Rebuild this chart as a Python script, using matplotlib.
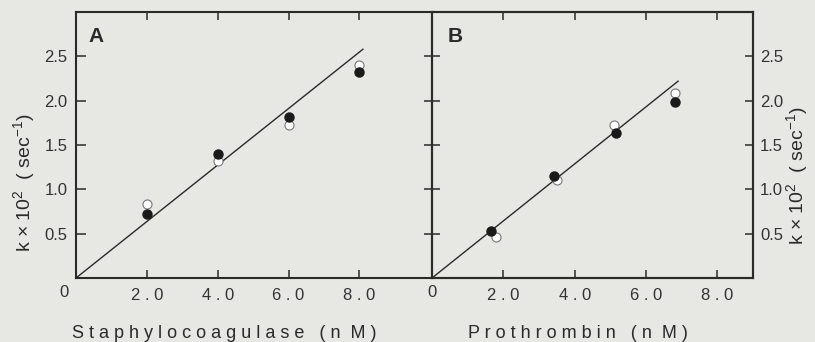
import matplotlib
matplotlib.use("Agg")
import matplotlib.pyplot as plt

plt.rcParams["font.family"] = ["Liberation Sans", "DejaVu Sans"]
plt.rcParams["mathtext.fontset"] = "custom"
plt.rcParams["mathtext.rm"] = "Liberation Sans"

# panel A: staphylocoagulase (nM) vs k x 10^2
staph_x = [2.0, 4.0, 6.0, 8.0]
staph_filled = [0.72, 1.40, 1.82, 2.32]
staph_open = [0.83, 1.32, 1.73, 2.40]
staph_fit_x = [0.0, 8.1]
staph_fit_y = [0.0, 2.58]

# panel B: prothrombin (nM) vs k x 10^2
pro_x_filled = [1.65, 3.41, 5.15, 6.80]
pro_filled = [0.53, 1.15, 1.63, 1.99]
pro_x_open = [1.79, 3.50, 5.10, 6.80]
pro_open = [0.46, 1.10, 1.73, 2.09]
pro_fit_x = [0.0, 6.9]
pro_fit_y = [0.0, 2.22]

xticks = [2.0, 4.0, 6.0, 8.0]
xticklabels = ["2 . 0", "4 . 0", "6 . 0", "8 . 0"]
yticks = [0.5, 1.0, 1.5, 2.0, 2.5]
yticklabels = ["0.5", "1.0", "1.5", "2.0", "2.5"]

bg = "#e7e7e4"
ink = "#2a2a2a"
W, H = 815, 342

fig = plt.figure(figsize=(8.15, 3.42), dpi=100, facecolor=bg)
axA = fig.add_axes([76 / W, 64 / H, 356 / W, 266 / H], facecolor=bg)
axB = fig.add_axes([432 / W, 64 / H, 321 / W, 266 / H], facecolor=bg)


def draw(ax, xf, yf, xo, yo, fx, fy):
    ax.plot(fx, fy, color=ink, lw=1.0, zorder=2)
    ax.plot(xo, yo, "o", ms=6.5, mfc="white", mec="#777777", mew=0.8, zorder=3)
    ax.plot(xf, yf, "o", ms=6.5, mfc="#1a1a1a", mec="#1a1a1a", zorder=4)
    ax.set_ylim(0, 3.0)
    for s in ax.spines.values():
        s.set_linewidth(1.5)
        s.set_color(ink)
    ax.set_xticks(xticks)
    ax.set_xticklabels(xticklabels, fontsize=12, color="#333333")
    ax.tick_params(axis="x", direction="in", length=6, width=1.1, color=ink,
                   top=True, pad=7)


draw(axA, staph_x, staph_filled, staph_x, staph_open, staph_fit_x, staph_fit_y)
draw(axB, pro_x_filled, pro_filled, pro_x_open, pro_open, pro_fit_x, pro_fit_y)

axA.set_xlim(0, 10.05)
axB.set_xlim(0, 9.0)

axA.spines["right"].set_visible(False)
axA.set_yticks(yticks)
axA.set_yticklabels(yticklabels, fontsize=12, color="#333333")
axA.tick_params(axis="y", direction="in", length=7, width=1.1, color=ink, pad=6)

# middle axis: ticks cross the line, no labels
axB.set_yticks(yticks)
axB.tick_params(axis="y", left=True, right=False, labelleft=False,
                direction="inout", length=11, width=1.1, color=ink)

# right axis of panel B: inward ticks, labels outside
axR = axB.twinx()
axR.set_ylim(0, 3.0)
axR.set_yticks(yticks)
axR.set_yticklabels(yticklabels, fontsize=12, color="#333333")
axR.tick_params(axis="y", direction="in", length=6, width=1.1, color=ink, pad=5)
for s in axR.spines.values():
    s.set_linewidth(1.5)
    s.set_color(ink)

# origin labels
axA.text(-0.35, -0.16, "0", fontsize=12, color="#333333", ha="center", va="center")
axB.text(0.0, -0.16, "0", fontsize=12, color="#333333", ha="center", va="center")

axA.text(0.35, 2.72, "A", fontsize=15, fontweight="bold", color=ink,
         ha="left", va="center")
axB.text(0.45, 2.72, "B", fontsize=15, fontweight="bold", color=ink,
         ha="left", va="center")

ylab = "k $\\times$ 10$^2$  ( sec$^{-1}$)"
fig.text(25 / W, 1 - 183 / H, ylab, rotation=90, fontsize=14, color=ink,
         ha="center", va="center")
fig.text(798 / W, 1 - 176 / H, ylab, rotation=90, fontsize=14, color=ink,
         ha="center", va="center")

fig.text(224 / W, 1 - 333 / H, "S t a p h y l o c o a g u l a s e   ( n  M )",
         fontsize=13, color=ink, ha="center", va="center")
fig.text(578 / W, 1 - 333 / H, "P r o t h r o m b i n   ( n  M )",
         fontsize=13, color=ink, ha="center", va="center")

fig.savefig("out.png", dpi=100, facecolor=bg)
